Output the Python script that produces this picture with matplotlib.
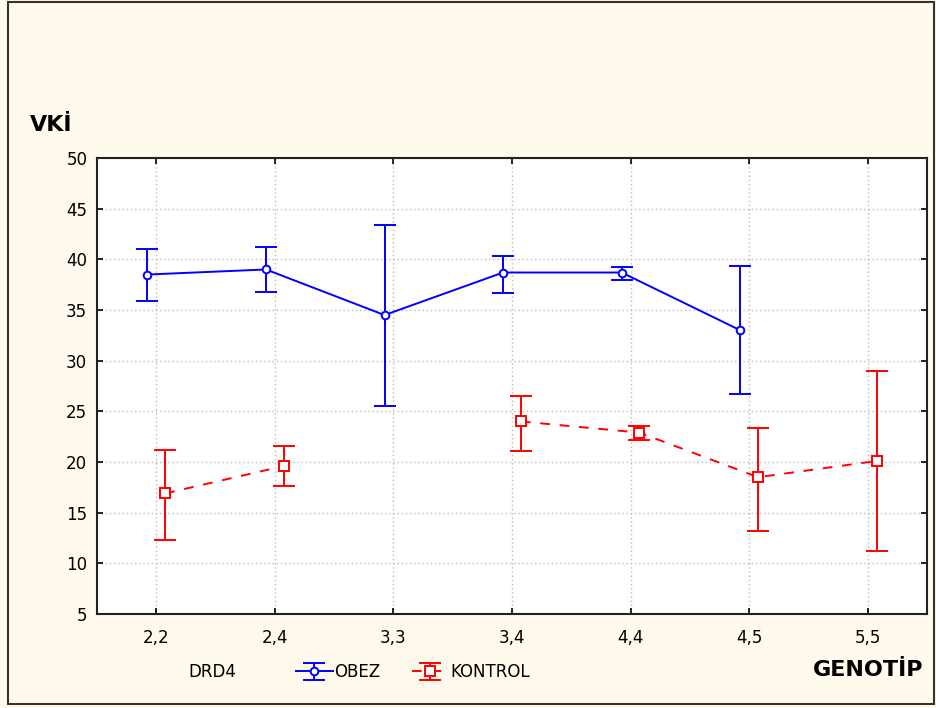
import matplotlib
matplotlib.use("Agg")
import matplotlib.pyplot as plt
import numpy as np
from matplotlib.patches import Rectangle

categories = ["2,2", "2,4", "3,3", "3,4", "4,4", "4,5", "5,5"]
obez_mean = [38.5, 39.0, 34.5, 38.7, 38.7, 33.0, np.nan]
obez_low = [35.9, 36.8, 25.5, 36.7, 38.0, 26.7, np.nan]
obez_high = [41.0, 41.2, 43.4, 40.3, 39.2, 39.3, np.nan]
kontrol_mean = [16.9, 19.6, np.nan, 24.0, 22.9, 18.5, 20.1]
kontrol_low = [12.3, 17.6, np.nan, 21.1, 22.2, 13.2, 11.2]
kontrol_high = [21.2, 21.6, np.nan, 26.5, 23.6, 23.4, 29.0]
yticks = [5, 10, 15, 20, 25, 30, 35, 40, 45, 50]

bg = "#FFF9EE"
fig = plt.figure(figsize=(9.36, 7.08), dpi=100, facecolor=bg)
ax = fig.add_axes([97/936, 1-614/708, (927-97)/936, (614-158)/708])
ax.set_facecolor("white")

x = np.arange(len(categories))
off = 0.075
om = np.array(obez_mean); km = np.array(kontrol_mean)
oerr = np.array([om - np.array(obez_low), np.array(obez_high) - om])
kerr = np.array([km - np.array(kontrol_low), np.array(kontrol_high) - km])

h1 = ax.errorbar(x - off, om, yerr=oerr, color="#0000FF", lw=1.4, elinewidth=1.4,
                 capsize=8, capthick=1.4, marker="o", ms=5.5, mfc="white", mec="#0000FF",
                 mew=1.4, zorder=3)
h2 = ax.errorbar(x + off, km, yerr=kerr, color="#FF0000", lw=1.4, elinewidth=1.4,
                 capsize=8, capthick=1.4, marker="s", ms=6.5, mfc="white", mec="#FF0000",
                 mew=1.4, ls=(0, (5, 5)), zorder=3)

ax.set_xlim(-0.5, 6.5)
ax.set_ylim(5, 50)
ax.set_xticks(x)
ax.set_xticklabels(categories, fontsize=12)
ax.set_yticks(yticks)
ax.set_yticklabels([str(v) for v in yticks], fontsize=12)
ax.grid(True, color="#BBBBBB", ls=(0, (1, 2)), lw=1)
ax.tick_params(direction="in", length=4, width=1.2, top=True, right=True)
ax.tick_params(axis="x", pad=11)
ax.tick_params(axis="y", pad=7)
for s in ax.spines.values():
    s.set_linewidth(1.5)
    s.set_color("#222222")
ax.set_axisbelow(True)

fig.text(30/936, 1-125/708, "VKİ", fontsize=16, fontweight="bold", ha="left", va="center")
fig.text(923/936, 1-670/708, "GENOTİP", fontsize=16, fontweight="bold", ha="right", va="center")
fig.text(188/936, 1-672/708, "DRD4", fontsize=12, ha="left", va="center")

fig.legend([h1, h2], ["OBEZ", "KONTROL"], loc="center left",
           bbox_to_anchor=(296/936, 1-672/708), ncol=2, frameon=False, fontsize=12,
           handlelength=2.2, handletextpad=0.1, columnspacing=1.9, borderaxespad=0,
           borderpad=0)

fig.patches.append(Rectangle((8/936, 4/708), (934-8)/936, (706-4)/708, transform=fig.transFigure,
                             fill=False, ec="#333333", lw=1.5))

fig.savefig("out.png", dpi=100, facecolor=bg)
